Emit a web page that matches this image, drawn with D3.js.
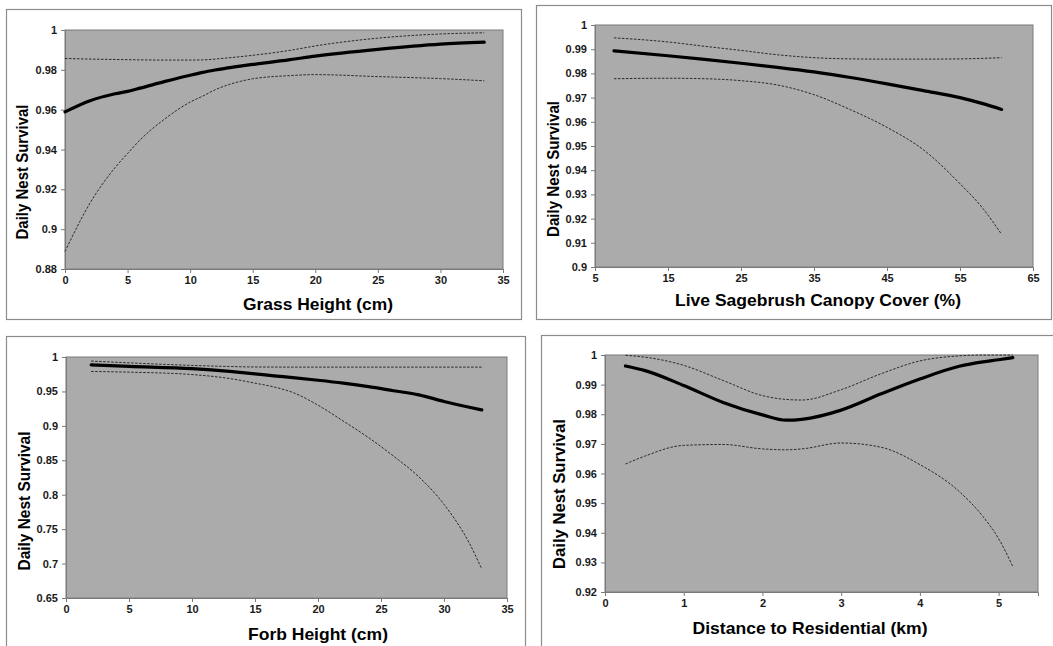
<!DOCTYPE html>
<html>
<head>
<meta charset="utf-8">
<script src="https://cdn.jsdelivr.net/npm/d3@7"></script>
<style>
  body { margin: 0; background: #fff; }
  svg { display: block; font-family: 'Liberation Sans', Arial, sans-serif; }
</style>
</head>
<body>
<svg width="1053" height="646"></svg>
<script>
// Grass height panel
let grassX     = [0, 2, 4, 5, 6, 8, 10, 11, 12, 13, 14, 15, 18, 20, 25, 30, 33.5];
let grassFit   = [0.9589, 0.9645, 0.9680, 0.9692, 0.9708, 0.9742, 0.9773, 0.9787, 0.9799, 0.9810, 0.9819, 0.9827, 0.9851, 0.9869, 0.9903, 0.9929, 0.9939];
let grassUpper = [0.9857, 0.9854, 0.9852, 0.9851, 0.9850, 0.9849, 0.9849, 0.9850, 0.9854, 0.9860, 0.9866, 0.9873, 0.9898, 0.9920, 0.9959, 0.9980, 0.9986];
let grassLower = [0.8888, 0.9131, 0.9309, 0.9380, 0.9448, 0.9555, 0.9638, 0.9668, 0.9700, 0.9724, 0.9742, 0.9755, 0.9771, 0.9776, 0.9766, 0.9756, 0.9745];
let grassXTicks = [0, 5, 10, 15, 20, 25, 30, 35];
let grassYTicks = [0.88, 0.9, 0.92, 0.94, 0.96, 0.98, 1];

// Live sagebrush canopy cover panel
let sageX     = [7.6, 15, 20, 25, 30, 35, 40, 45, 50, 55, 58, 60.7];
let sageFit   = [0.9893, 0.9873, 0.9858, 0.9842, 0.9825, 0.9806, 0.9783, 0.9757, 0.9729, 0.9700, 0.9676, 0.9651];
let sageUpper = [0.9947, 0.9930, 0.9912, 0.9895, 0.9877, 0.9865, 0.9860, 0.9859, 0.9859, 0.9860, 0.9862, 0.9865];
let sageLower = [0.9778, 0.9780, 0.9778, 0.9770, 0.9752, 0.9712, 0.9650, 0.9577, 0.9484, 0.9344, 0.9247, 0.9135];
let sageXTicks = [5, 15, 25, 35, 45, 55, 65];
let sageYTicks = [0.9, 0.91, 0.92, 0.93, 0.94, 0.95, 0.96, 0.97, 0.98, 0.99, 1];

// Forb height panel
let forbX     = [2, 5, 10, 13, 15, 16.5, 18, 20, 22, 24, 26, 28, 30, 32, 33];
let forbFit   = [0.9887, 0.9865, 0.9830, 0.9790, 0.9755, 0.9727, 0.9700, 0.9662, 0.9620, 0.9570, 0.9510, 0.9450, 0.9354, 0.9270, 0.9232];
let forbUpper = [0.9941, 0.9915, 0.9878, 0.9862, 0.9855, 0.9854, 0.9853, 0.9853, 0.9853, 0.9853, 0.9853, 0.9853, 0.9853, 0.9853, 0.9853];
let forbLower = [0.9790, 0.9780, 0.9745, 0.9687, 0.9620, 0.9565, 0.9485, 0.9300, 0.9070, 0.8830, 0.8560, 0.8260, 0.7860, 0.7300, 0.6921];
let forbXTicks = [0, 5, 10, 15, 20, 25, 30, 35];
let forbYTicks = [0.65, 0.7, 0.75, 0.8, 0.85, 0.9, 0.95, 1];

// Distance to residential panel
let distX     = [0.26, 0.5, 1, 1.5, 2, 2.3, 2.5, 3, 3.5, 4, 4.5, 4.8, 5, 5.18];
let distFit   = [0.9963, 0.9948, 0.9897, 0.9840, 0.9798, 0.9780, 0.9783, 0.9814, 0.9868, 0.9919, 0.9962, 0.9977, 0.9984, 0.9991];
let distUpper = [0.9999, 0.9993, 0.9965, 0.9914, 0.9863, 0.9850, 0.9848, 0.9883, 0.9936, 0.9980, 0.9997, 1.0, 1.0, 1.0];
let distLower = [0.9632, 0.9658, 0.9695, 0.9698, 0.9683, 0.9680, 0.9683, 0.9703, 0.9689, 0.9630, 0.9539, 0.9455, 0.9380, 0.9286];
let distXTicks = [0, 1, 2, 3, 4, 5];
let distYTicks = [0.92, 0.93, 0.94, 0.95, 0.96, 0.97, 0.98, 0.99, 1];

let svg = d3.select('svg');
let fmt = d3.format('~g');

// Panel layout (frame box, plot box, axis ranges, title placement)
let panels = [
    { frame: [6, 9, 515, 310], plot: [65, 30, 503, 269], xDomain: [0, 35], yDomain: [0.88, 1],
      x: grassX, fit: grassFit, upper: grassUpper, lower: grassLower,
      xTicks: grassXTicks, yTicks: grassYTicks,
      xTitle: 'Grass Height (cm)', xTitlePos: [318, 310, 150], yTitlePos: [28, 172, 135] },
    { frame: [536, 5, 515, 314], plot: [595, 25, 1033, 267], xDomain: [5, 65], yDomain: [0.9, 1],
      x: sageX, fit: sageFit, upper: sageUpper, lower: sageLower,
      xTicks: sageXTicks, yTicks: sageYTicks,
      xTitle: 'Live Sagebrush Canopy Cover (%)', xTitlePos: [818, 306, 286], yTitlePos: [559, 169, 136] },
    { frame: [6, 336, 519, 330], plot: [66, 357, 507, 598], xDomain: [0, 35], yDomain: [0.65, 1],
      x: forbX, fit: forbFit, upper: forbUpper, lower: forbLower,
      xTicks: forbXTicks, yTicks: forbYTicks,
      xTitle: 'Forb Height (cm)', xTitlePos: [318, 640, 140], yTitlePos: [30, 501, 139] },
    { frame: [541, 335, 530, 330], plot: [605, 355, 1038, 592], xDomain: [0, 5.5], yDomain: [0.92, 1],
      x: distX, fit: distFit, upper: distUpper, lower: distLower,
      xTicks: distXTicks, yTicks: distYTicks,
      xTitle: 'Distance to Residential (km)', xTitlePos: [810, 634, 235], yTitlePos: [565, 494, 150] }
];

panels.forEach(function(p) {
    let [l, t, r, b] = p.plot;

    // outer frame
    svg.append('rect')
        .attr('x', p.frame[0] + 0.5).attr('y', p.frame[1] + 0.5)
        .attr('width', p.frame[2]).attr('height', p.frame[3])
        .attr('fill', 'none').attr('stroke', '#8c8c8c').attr('stroke-width', 1.2);

    let x = d3.scaleLinear().domain(p.xDomain).range([l, r]);
    let y = d3.scaleLinear().domain(p.yDomain).range([b, t]);

    // plot area
    svg.append('rect')
        .attr('x', l).attr('y', t).attr('width', r - l).attr('height', b - t)
        .attr('fill', '#ababab').attr('stroke', '#7a7a7a').attr('stroke-width', 1);

    // axes
    let xAxis = svg.append('g')
        .attr('transform', 'translate(0,' + b + ')')
        .call(d3.axisBottom(x).tickValues(p.xTicks).tickFormat(fmt).tickSize(4).tickPadding(3));
    let yAxis = svg.append('g')
        .attr('transform', 'translate(' + l + ',0)')
        .call(d3.axisLeft(y).tickValues(p.yTicks).tickFormat(fmt).tickSize(4).tickPadding(4));

    [xAxis, yAxis].forEach(function(a) {
        a.select('.domain').attr('stroke', '#7a7a7a');
        a.selectAll('.tick line').attr('stroke', '#7a7a7a');
        a.selectAll('.tick text')
            .attr('fill', '#1a1a1a')
            .style('font-size', '11px')
            .style('font-weight', 'bold');
    });

    let line = d3.line().x((d, i) => x(p.x[i])).y(d => y(d)).curve(d3.curveMonotoneX);

    // confidence limits
    [p.upper, p.lower].forEach(function(s) {
        svg.append('path')
            .datum(s)
            .attr('d', line)
            .attr('fill', 'none')
            .attr('stroke', '#2a2a2a')
            .attr('stroke-width', 1)
            .attr('stroke-dasharray', '2.5,1.5');
    });

    // fitted line
    svg.append('path')
        .datum(p.fit)
        .attr('d', line)
        .attr('fill', 'none')
        .attr('stroke', '#000')
        .attr('stroke-width', 3.2)
        .attr('stroke-linecap', 'round');

    // titles
    svg.append('text')
        .attr('x', p.xTitlePos[0]).attr('y', p.xTitlePos[1])
        .attr('text-anchor', 'middle')
        .attr('textLength', p.xTitlePos[2])
        .attr('lengthAdjust', 'spacingAndGlyphs')
        .style('font-size', '17px').style('font-weight', 'bold')
        .text(p.xTitle);

    svg.append('text')
        .attr('transform', 'translate(' + p.yTitlePos[0] + ',' + p.yTitlePos[1] + ') rotate(-90)')
        .attr('text-anchor', 'middle')
        .attr('textLength', p.yTitlePos[2])
        .attr('lengthAdjust', 'spacingAndGlyphs')
        .style('font-size', '17px').style('font-weight', 'bold')
        .text('Daily Nest Survival');
});
</script>
</body>
</html>
